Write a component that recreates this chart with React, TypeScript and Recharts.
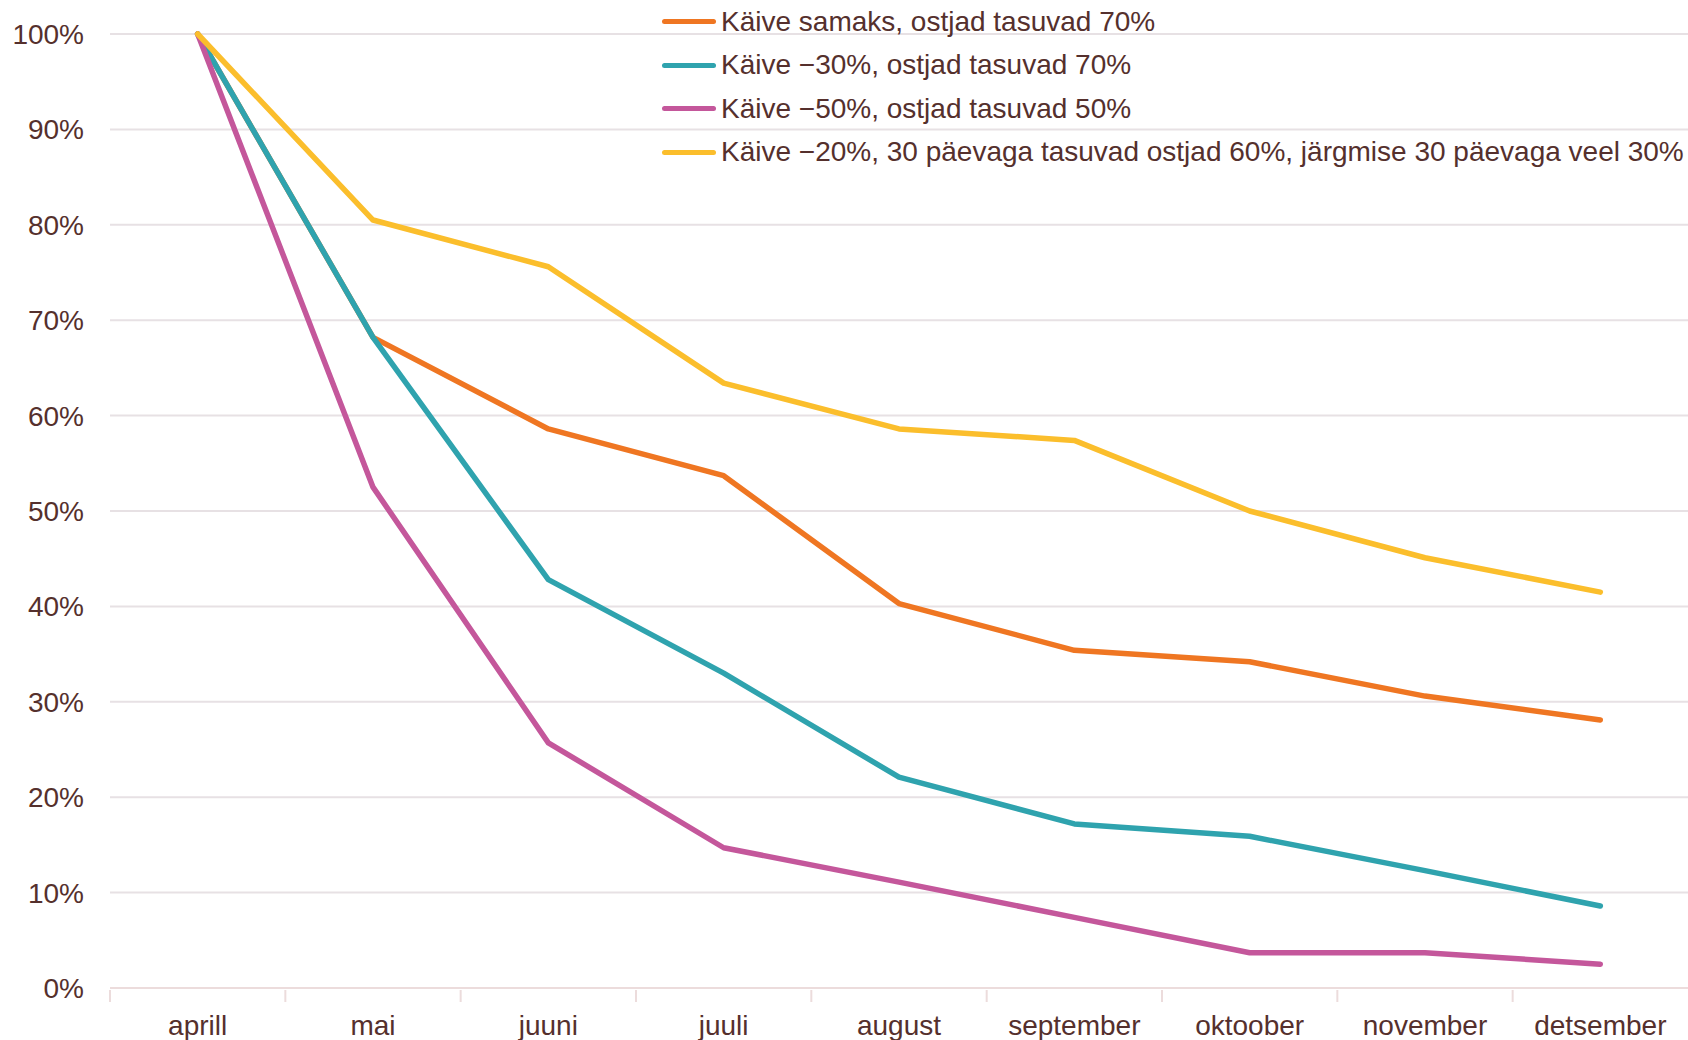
import { LineChart, Line, XAxis, YAxis, CartesianGrid, Legend } from 'recharts';

const months = ['aprill', 'mai', 'juuni', 'juuli', 'august', 'september', 'oktoober', 'november', 'detsember'];
const samaks70 = [100, 68.2, 58.6, 53.7, 40.3, 35.4, 34.2, 30.6, 28.1];
const minus30 = [100, 68.2, 42.8, 33.0, 22.1, 17.2, 15.9, 12.3, 8.6];
const minus50 = [100, 52.5, 25.7, 14.7, 11.1, 7.4, 3.7, 3.7, 2.5];
const minus20 = [100, 80.5, 75.6, 63.4, 58.6, 57.4, 50.0, 45.1, 41.5];
const yTicks = [0, 10, 20, 30, 40, 50, 60, 70, 80, 90, 100];

const seriesInfo = [
  { key: 'a', name: 'Käive samaks, ostjad tasuvad 70%', color: '#ef7622' },
  { key: 'b', name: 'Käive −30%, ostjad tasuvad 70%', color: '#2fa3ae' },
  { key: 'c', name: 'Käive −50%, ostjad tasuvad 50%', color: '#c4579b' },
  { key: 'd', name: 'Käive −20%, 30 päevaga tasuvad ostjad 60%, järgmise 30 päevaga veel 30%', color: '#fbbe2c' },
];

const data = months.map((m, i) => ({
  month: m,
  a: samaks70[i],
  b: minus30[i],
  c: minus50[i],
  d: minus20[i],
}));

const W = 1688;
const H = 1040;
const LEFT = 110;
const TOP = 34;
const XAXIS_H = 52;
const band = (W - LEFT) / months.length;
const textColor = '#55302d';
const font = '"Liberation Sans", Arial, sans-serif';

function MonthTick(props: any) {
  const { x, y, payload } = props;
  return (
    <g>
      <line x1={x - band / 2} x2={x - band / 2} y1={y} y2={y + 12} stroke="#ecdcdc" strokeWidth={2} />
      <text x={x} y={y + 45} textAnchor="middle" fill={textColor} fontSize={28} fontFamily={font}>
        {payload.value}
      </text>
    </g>
  );
}

function LegendBox() {
  return (
    <div style={{ fontFamily: font, fontSize: 28, color: textColor }}>
      {seriesInfo.map((s) => (
        <div key={s.key} style={{ display: 'flex', alignItems: 'center', height: 43.5, whiteSpace: 'nowrap' }}>
          <span style={{ display: 'inline-block', width: 54, height: 5, borderRadius: 3, background: s.color, marginRight: 5 }} />
          <span>{s.name}</span>
        </div>
      ))}
    </div>
  );
}

export default function App() {
  return (
    <div style={{ position: 'absolute', left: 0, top: 0, width: W, height: H, background: '#fff' }}>
      <LineChart width={W} height={H} data={data} margin={{ top: TOP, right: 0, bottom: 0, left: 0 }}>
        <CartesianGrid vertical={false} stroke="#e7e1e4" strokeWidth={2} />
        <XAxis
          dataKey="month"
          height={XAXIS_H}
          padding={{ left: band / 2, right: band / 2 }}
          axisLine={{ stroke: '#ecdcdc', strokeWidth: 2 }}
          tickLine={false}
          tickSize={0}
          tick={<MonthTick />}
          interval={0}
        />
        <YAxis
          width={LEFT}
          domain={[0, 100]}
          ticks={yTicks}
          tickFormatter={(v: number) => `${v}%`}
          axisLine={false}
          tickLine={false}
          tickSize={0}
          tickMargin={26}
          tick={{ fill: textColor, fontSize: 28, fontFamily: font }}
        />
        <Legend
          layout="horizontal"
          verticalAlign="middle"
          align="center"
          content={<LegendBox />}
          wrapperStyle={{ top: 0, left: 662, width: 1026, height: 175 }}
        />
        {seriesInfo.map((s) => (
          <Line
            key={s.key}
            type="linear"
            dataKey={s.key}
            name={s.name}
            stroke={s.color}
            strokeWidth={5.5}
            strokeLinecap="round"
            strokeLinejoin="round"
            dot={false}
            isAnimationActive={false}
          />
        ))}
      </LineChart>
    </div>
  );
}
